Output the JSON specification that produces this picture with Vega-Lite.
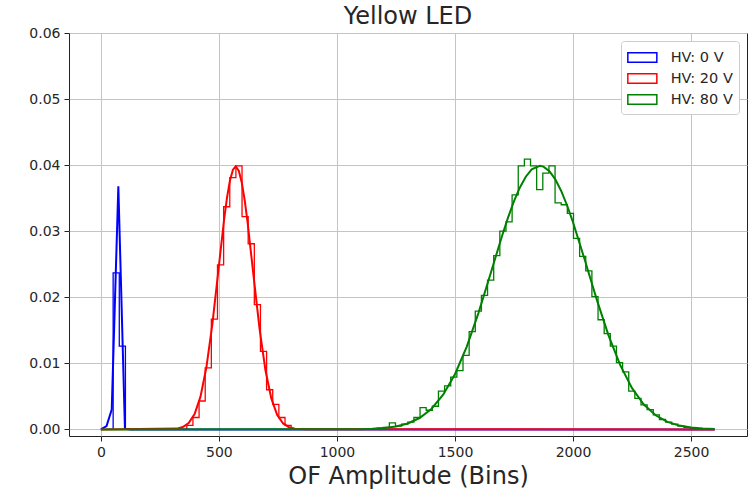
{
  "$schema": "https://vega.github.io/schema/vega-lite/v6.json",
  "width": 678,
  "height": 403,
  "autosize": {"type": "none"},
  "padding": {"left": 69, "top": 33, "right": 4, "bottom": 55},
  "background": "white",
  "title": {"text": "Yellow LED", "fontSize": 24, "font": "DejaVu Sans", "fontWeight": "normal", "color": "#262626", "anchor": "middle", "offset": 5, "dy": 8},
  "config": {
    "view": {"stroke": "#222222", "strokeWidth": 1},
    "axis": {
      "domain": false,
      "grid": true,
      "gridColor": "#c4c4c4",
      "gridWidth": 1,
      "tickColor": "#222222",
      "tickSize": 5,
      "labelPadding": 4,
      "labelFontSize": 14,
      "labelFont": "DejaVu Sans",
      "labelColor": "#262626",
      "titleFont": "DejaVu Sans",
      "titleFontSize": 24,
      "titleFontWeight": "normal",
      "titleColor": "#262626",
      "titlePadding": 5
    }
  },
  "datasets": {
    "hist": [
      {"s": "HV: 0 V", "x": 26, "y": 0},
      {"s": "HV: 0 V", "x": 52, "y": 0.0237},
      {"s": "HV: 0 V", "x": 78, "y": 0.0126},
      {"s": "HV: 0 V", "x": 104, "y": 0},
      {"s": "HV: 20 V", "x": 338, "y": 0},
      {"s": "HV: 20 V", "x": 364, "y": 0.0006},
      {"s": "HV: 20 V", "x": 390, "y": 0.0018},
      {"s": "HV: 20 V", "x": 416, "y": 0.0043},
      {"s": "HV: 20 V", "x": 442, "y": 0.0093},
      {"s": "HV: 20 V", "x": 468, "y": 0.0167},
      {"s": "HV: 20 V", "x": 494, "y": 0.0249},
      {"s": "HV: 20 V", "x": 520, "y": 0.0337},
      {"s": "HV: 20 V", "x": 546, "y": 0.0381},
      {"s": "HV: 20 V", "x": 572, "y": 0.0399},
      {"s": "HV: 20 V", "x": 598, "y": 0.0322},
      {"s": "HV: 20 V", "x": 624, "y": 0.0281},
      {"s": "HV: 20 V", "x": 650, "y": 0.0189},
      {"s": "HV: 20 V", "x": 676, "y": 0.0118},
      {"s": "HV: 20 V", "x": 702, "y": 0.0060},
      {"s": "HV: 20 V", "x": 728, "y": 0.0038},
      {"s": "HV: 20 V", "x": 754, "y": 0.0018},
      {"s": "HV: 20 V", "x": 780, "y": 0.0006},
      {"s": "HV: 20 V", "x": 806, "y": 0.0001},
      {"s": "HV: 20 V", "x": 832, "y": 0},
      {"s": "HV: 80 V", "x": 1144, "y": 0},
      {"s": "HV: 80 V", "x": 1170, "y": 0.0002},
      {"s": "HV: 80 V", "x": 1196, "y": 0.0003},
      {"s": "HV: 80 V", "x": 1222, "y": 0.0010},
      {"s": "HV: 80 V", "x": 1248, "y": 0.0005},
      {"s": "HV: 80 V", "x": 1274, "y": 0.0008},
      {"s": "HV: 80 V", "x": 1300, "y": 0.0011},
      {"s": "HV: 80 V", "x": 1326, "y": 0.0018},
      {"s": "HV: 80 V", "x": 1352, "y": 0.0033},
      {"s": "HV: 80 V", "x": 1378, "y": 0.0029},
      {"s": "HV: 80 V", "x": 1404, "y": 0.0035},
      {"s": "HV: 80 V", "x": 1430, "y": 0.0058},
      {"s": "HV: 80 V", "x": 1456, "y": 0.0066},
      {"s": "HV: 80 V", "x": 1482, "y": 0.0079},
      {"s": "HV: 80 V", "x": 1508, "y": 0.0089},
      {"s": "HV: 80 V", "x": 1534, "y": 0.0112},
      {"s": "HV: 80 V", "x": 1560, "y": 0.0148},
      {"s": "HV: 80 V", "x": 1586, "y": 0.0179},
      {"s": "HV: 80 V", "x": 1612, "y": 0.0203},
      {"s": "HV: 80 V", "x": 1638, "y": 0.0226},
      {"s": "HV: 80 V", "x": 1664, "y": 0.0263},
      {"s": "HV: 80 V", "x": 1690, "y": 0.0300},
      {"s": "HV: 80 V", "x": 1716, "y": 0.0314},
      {"s": "HV: 80 V", "x": 1742, "y": 0.0355},
      {"s": "HV: 80 V", "x": 1768, "y": 0.0399},
      {"s": "HV: 80 V", "x": 1794, "y": 0.0409},
      {"s": "HV: 80 V", "x": 1820, "y": 0.0399},
      {"s": "HV: 80 V", "x": 1846, "y": 0.0363},
      {"s": "HV: 80 V", "x": 1872, "y": 0.0388},
      {"s": "HV: 80 V", "x": 1898, "y": 0.0399},
      {"s": "HV: 80 V", "x": 1924, "y": 0.0343},
      {"s": "HV: 80 V", "x": 1950, "y": 0.0340},
      {"s": "HV: 80 V", "x": 1976, "y": 0.0327},
      {"s": "HV: 80 V", "x": 2002, "y": 0.0289},
      {"s": "HV: 80 V", "x": 2028, "y": 0.0262},
      {"s": "HV: 80 V", "x": 2054, "y": 0.0240},
      {"s": "HV: 80 V", "x": 2080, "y": 0.0201},
      {"s": "HV: 80 V", "x": 2106, "y": 0.0166},
      {"s": "HV: 80 V", "x": 2132, "y": 0.0145},
      {"s": "HV: 80 V", "x": 2158, "y": 0.0126},
      {"s": "HV: 80 V", "x": 2184, "y": 0.0101},
      {"s": "HV: 80 V", "x": 2210, "y": 0.0087},
      {"s": "HV: 80 V", "x": 2236, "y": 0.0058},
      {"s": "HV: 80 V", "x": 2262, "y": 0.0047},
      {"s": "HV: 80 V", "x": 2288, "y": 0.0037},
      {"s": "HV: 80 V", "x": 2314, "y": 0.0030},
      {"s": "HV: 80 V", "x": 2340, "y": 0.0022},
      {"s": "HV: 80 V", "x": 2366, "y": 0.0015},
      {"s": "HV: 80 V", "x": 2392, "y": 0.0011},
      {"s": "HV: 80 V", "x": 2418, "y": 0.0008},
      {"s": "HV: 80 V", "x": 2444, "y": 0.0005},
      {"s": "HV: 80 V", "x": 2470, "y": 0.0003},
      {"s": "HV: 80 V", "x": 2496, "y": 0.0002},
      {"s": "HV: 80 V", "x": 2522, "y": 0.0001},
      {"s": "HV: 80 V", "x": 2548, "y": 0.0001},
      {"s": "HV: 80 V", "x": 2574, "y": 0}
    ],
    "fit": [
      {"s": "HV: 0 V", "x": 0, "y": 0},
      {"s": "HV: 0 V", "x": 24, "y": 0.0005},
      {"s": "HV: 0 V", "x": 46, "y": 0.0030},
      {"s": "HV: 0 V", "x": 74, "y": 0.0368},
      {"s": "HV: 0 V", "x": 102, "y": 0.0001},
      {"s": "HV: 0 V", "x": 128, "y": 0},
      {"s": "HV: 0 V", "x": 2600, "y": 0},
      {"s": "HV: 20 V", "x": 0, "y": 0},
      {"s": "HV: 20 V", "x": 322, "y": 0.00012},
      {"s": "HV: 20 V", "x": 347, "y": 0.00036},
      {"s": "HV: 20 V", "x": 372, "y": 0.00097},
      {"s": "HV: 20 V", "x": 397, "y": 0.00232},
      {"s": "HV: 20 V", "x": 422, "y": 0.00496},
      {"s": "HV: 20 V", "x": 447, "y": 0.0094},
      {"s": "HV: 20 V", "x": 472, "y": 0.01587},
      {"s": "HV: 20 V", "x": 497, "y": 0.02381},
      {"s": "HV: 20 V", "x": 522, "y": 0.03177},
      {"s": "HV: 20 V", "x": 534.5, "y": 0.03512},
      {"s": "HV: 20 V", "x": 547, "y": 0.03771},
      {"s": "HV: 20 V", "x": 559.5, "y": 0.03931},
      {"s": "HV: 20 V", "x": 571, "y": 0.0398},
      {"s": "HV: 20 V", "x": 584.5, "y": 0.03912},
      {"s": "HV: 20 V", "x": 597, "y": 0.03735},
      {"s": "HV: 20 V", "x": 609.5, "y": 0.03463},
      {"s": "HV: 20 V", "x": 622, "y": 0.03118},
      {"s": "HV: 20 V", "x": 647, "y": 0.02315},
      {"s": "HV: 20 V", "x": 672, "y": 0.01528},
      {"s": "HV: 20 V", "x": 697, "y": 0.00898},
      {"s": "HV: 20 V", "x": 722, "y": 0.00469},
      {"s": "HV: 20 V", "x": 747, "y": 0.00218},
      {"s": "HV: 20 V", "x": 772, "y": 0.0009},
      {"s": "HV: 20 V", "x": 797, "y": 0.00033},
      {"s": "HV: 20 V", "x": 822, "y": 0.00011},
      {"s": "HV: 20 V", "x": 872, "y": 0.00001},
      {"s": "HV: 20 V", "x": 2600, "y": 0},
      {"s": "HV: 80 V", "x": 0, "y": 0},
      {"s": "HV: 80 V", "x": 1100, "y": 0.00004},
      {"s": "HV: 80 V", "x": 1150, "y": 0.00009},
      {"s": "HV: 80 V", "x": 1200, "y": 0.000205},
      {"s": "HV: 80 V", "x": 1250, "y": 0.000443},
      {"s": "HV: 80 V", "x": 1300, "y": 0.000901},
      {"s": "HV: 80 V", "x": 1350, "y": 0.001721},
      {"s": "HV: 80 V", "x": 1400, "y": 0.003096},
      {"s": "HV: 80 V", "x": 1450, "y": 0.005243},
      {"s": "HV: 80 V", "x": 1500, "y": 0.008355},
      {"s": "HV: 80 V", "x": 1550, "y": 0.01253},
      {"s": "HV: 80 V", "x": 1600, "y": 0.01768},
      {"s": "HV: 80 V", "x": 1650, "y": 0.02349},
      {"s": "HV: 80 V", "x": 1700, "y": 0.02936},
      {"s": "HV: 80 V", "x": 1725, "y": 0.03209},
      {"s": "HV: 80 V", "x": 1750, "y": 0.03454},
      {"s": "HV: 80 V", "x": 1775, "y": 0.03663},
      {"s": "HV: 80 V", "x": 1800, "y": 0.03825},
      {"s": "HV: 80 V", "x": 1825, "y": 0.03935},
      {"s": "HV: 80 V", "x": 1859, "y": 0.0399},
      {"s": "HV: 80 V", "x": 1875, "y": 0.03978},
      {"s": "HV: 80 V", "x": 1900, "y": 0.03909},
      {"s": "HV: 80 V", "x": 1925, "y": 0.03785},
      {"s": "HV: 80 V", "x": 1950, "y": 0.03609},
      {"s": "HV: 80 V", "x": 1975, "y": 0.03389},
      {"s": "HV: 80 V", "x": 2000, "y": 0.03135},
      {"s": "HV: 80 V", "x": 2050, "y": 0.02563},
      {"s": "HV: 80 V", "x": 2100, "y": 0.01972},
      {"s": "HV: 80 V", "x": 2150, "y": 0.01428},
      {"s": "HV: 80 V", "x": 2200, "y": 0.00973},
      {"s": "HV: 80 V", "x": 2250, "y": 0.00624},
      {"s": "HV: 80 V", "x": 2300, "y": 0.00377},
      {"s": "HV: 80 V", "x": 2350, "y": 0.00214},
      {"s": "HV: 80 V", "x": 2400, "y": 0.001145},
      {"s": "HV: 80 V", "x": 2450, "y": 0.000576},
      {"s": "HV: 80 V", "x": 2500, "y": 0.000273},
      {"s": "HV: 80 V", "x": 2550, "y": 0.000122},
      {"s": "HV: 80 V", "x": 2600, "y": 0.000051}
    ]
  },
  "encoding": {
    "x": {
      "field": "x", "type": "quantitative",
      "scale": {"domain": [-135, 2737], "nice": false, "zero": false},
      "axis": {"values": [0, 500, 1000, 1500, 2000, 2500], "format": "d", "title": "OF Amplitude (Bins)"}
    },
    "y": {
      "field": "y", "type": "quantitative",
      "scale": {"domain": [-0.001, 0.06], "nice": false, "zero": false},
      "axis": {"values": [0, 0.01, 0.02, 0.03, 0.04, 0.05, 0.06], "format": ".2f", "title": null}
    },
    "color": {
      "field": "s", "type": "nominal",
      "scale": {"domain": ["HV: 0 V", "HV: 20 V", "HV: 80 V"], "range": ["#0000ff", "#ff0000", "#008000"]},
      "legend": {
        "title": null,
        "orient": "top-right",
        "offset": 8,
        "padding": 6,
        "fillColor": "white",
        "strokeColor": "#cccccc",
        "cornerRadius": 3,
        "labelFont": "DejaVu Sans",
        "labelFontSize": 14.5,
        "labelColor": "#262626",
        "labelOffset": 22.7,
        "symbolType": "M-1,-0.5L2,-0.5L2,0.5L-1,0.5Z",
        "symbolSize": 374,
        "symbolStrokeWidth": 1.5,
        "symbolFillColor": "transparent",
        "rowPadding": 2
      }
    }
  },
  "layer": [
    {
      "data": {"name": "hist"},
      "mark": {"type": "line", "interpolate": "step-after", "strokeWidth": 1.3}
    },
    {
      "data": {"name": "fit"},
      "mark": {"type": "line", "strokeWidth": 2}
    }
  ]
}
